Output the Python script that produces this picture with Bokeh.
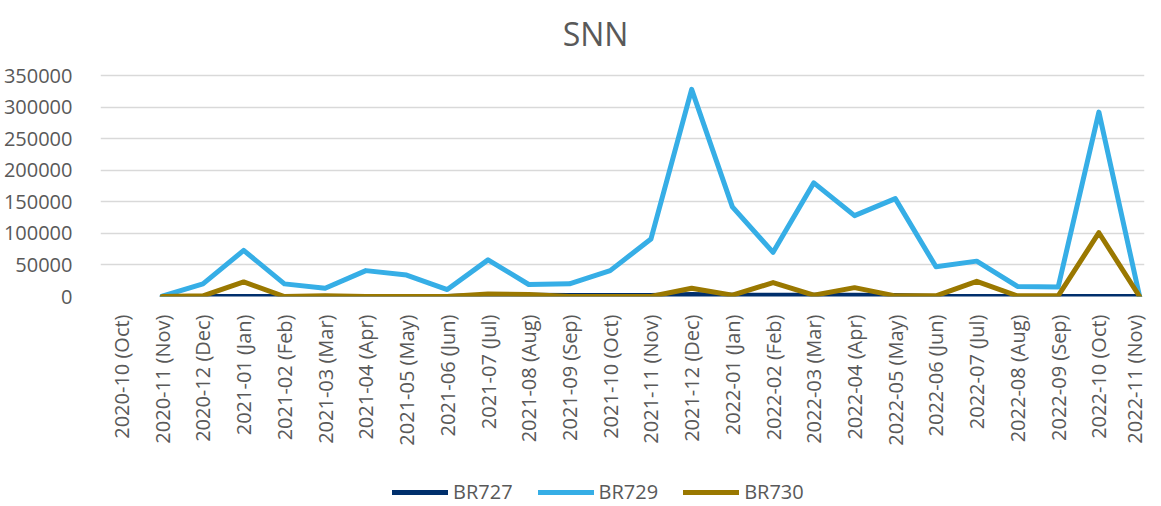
from bokeh.plotting import figure
from bokeh.layouts import column
from bokeh.models import (Range1d, FixedTicker, NumeralTickFormatter, Legend, LegendItem, Label)
from bokeh.embed import file_html
from bokeh.resources import INLINE
import math

months = ["2020-10 (Oct)", "2020-11 (Nov)", "2020-12 (Dec)", "2021-01 (Jan)", "2021-02 (Feb)",
          "2021-03 (Mar)", "2021-04 (Apr)", "2021-05 (May)", "2021-06 (Jun)", "2021-07 (Jul)",
          "2021-08 (Aug)", "2021-09 (Sep)", "2021-10 (Oct)", "2021-11 (Nov)", "2021-12 (Dec)",
          "2022-01 (Jan)", "2022-02 (Feb)", "2022-03 (Mar)", "2022-04 (Apr)", "2022-05 (May)",
          "2022-06 (Jun)", "2022-07 (Jul)", "2022-08 (Aug)", "2022-09 (Sep)", "2022-10 (Oct)",
          "2022-11 (Nov)"]
NaN = float("nan")
br727 = [NaN, 0, 0, 0, 0, 0, 0, 0, 0, 2000, 2000, 1500, 1500, 1500, 3000,
         2000, 2000, 2000, 2000, 1500, 0, 0, 0, 0, 0, 0]
br729 = [NaN, 500, 20000, 73000, 20000, 13000, 41000, 34000, 11000, 58000, 19000, 20000,
         41000, 91000, 328000, 142000, 70000, 180000, 128000, 155000, 47000, 56000,
         16000, 15000, 292000, 0]
br730 = [NaN, 0, 1000, 23000, 0, 1000, 0, 0, 0, 4000, 3000, 0, 0, 0, 13000,
         2000, 22000, 2000, 14000, 1000, 1000, 24000, 1000, 1000, 101000, 0]
series_names = ["BR727", "BR729", "BR730"]
series_colors = ["#002F6C", "#36AEE6", "#9A7800"]
y_ticks = [0, 50000, 100000, 150000, 200000, 250000, 300000, 350000]
title_text = "SNN"

xs = list(range(len(months)))
FONT = "Open Sans"
GRAY = "#595959"

FRAME_H = 296      # frame covers title area + plot area
PLOT_H = 221       # height of the 0..350000 band
y_end = y_ticks[-1] * FRAME_H / PLOT_H

p = figure(frame_width=1044, frame_height=FRAME_H, output_backend="svg", toolbar_location=None,
           x_range=Range1d(-0.516, 25.12), y_range=Range1d(0, y_end),
           min_border_left=98, min_border_right=3, min_border_top=0, min_border_bottom=160)
p.outline_line_color = None
p.background_fill_color = "white"
p.border_fill_color = "white"

title = Label(x=495, y=263, x_units="screen", y_units="screen", text=title_text,
              text_align="center", text_baseline="alphabetic", text_font=FONT,
              text_font_size="32px", text_color=GRAY)
p.add_layout(title, "center")

for data, c in zip([br727, br729, br730], series_colors):
    p.line(xs, data, line_color=c, line_width=5, line_join="round", line_cap="round")

p.xgrid.visible = False
p.ygrid.grid_line_color = "#D9D9D9"
p.ygrid.grid_line_width = 1.3
p.yaxis.ticker = FixedTicker(ticks=y_ticks)
p.yaxis.formatter = NumeralTickFormatter(format="0")
p.xaxis.ticker = FixedTicker(ticks=xs)
p.xaxis.major_label_overrides = {i: m for i, m in enumerate(months)}
p.xaxis.major_label_orientation = math.pi / 2
for ax in (p.xaxis, p.yaxis):
    ax.axis_line_color = None
    ax.major_tick_line_color = None
    ax.minor_tick_line_color = None
    ax.major_label_text_font = FONT
    ax.major_label_text_font_size = "20px"
    ax.major_label_text_color = GRAY
p.xaxis.major_label_standoff = 12
p.yaxis.major_label_standoff = 22

# legend strip
lg = figure(width=1145, height=50, output_backend="svg", toolbar_location=None,
            min_border=0, x_range=Range1d(0, 1), y_range=Range1d(0, 1),
            x_axis_type=None, y_axis_type=None)
lg.grid.visible = False
lg.outline_line_color = None
items = []
for name, c in zip(series_names, series_colors):
    r = lg.line([NaN], [NaN], line_color=c, line_width=5, line_cap="round")
    items.append(LegendItem(label=name, renderers=[r]))
legend = Legend(items=items, orientation="horizontal", location=(292, 1),
                label_text_font=FONT, label_text_font_size="20px", label_text_color=GRAY,
                glyph_width=56, glyph_height=20, label_standoff=5, spacing=25,
                border_line_color=None, background_fill_alpha=0, padding=0, margin=0)
lg.add_layout(legend, "center")

layout = column(p, lg, spacing=0)
open("out.html", "w").write(file_html(layout, INLINE))
